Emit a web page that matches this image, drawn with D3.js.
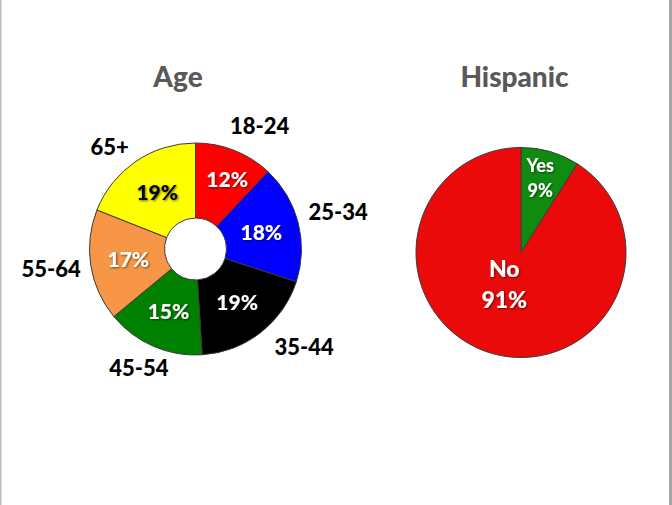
<!DOCTYPE html>
<html>
<head>
<meta charset="utf-8">
<script src="https://cdn.jsdelivr.net/npm/d3@7"></script>
<style>
  html, body { margin: 0; padding: 0; background: #fff; }
  svg { display: block; }
</style>
</head>
<body>
<svg id="chart" width="672" height="505"></svg>
<script>
// ---- data ----
const ageCategories = ["18-24", "25-34", "35-44", "45-54", "55-64", "65+"];
const ageValues = [12, 18, 19, 15, 17, 19];
const ageColors = ["#FF0000", "#0000FF", "#000000", "#008000", "#F79646", "#FFFF00"];
const ageTextColors = ["#FFFFFF", "#FFFFFF", "#FFFFFF", "#FFFFFF", "#FFFFFF", "#000000"];

const hispCategories = ["Yes", "No"];
const hispValues = [9, 91];
const hispColors = ["#0F8C0F", "#EB0A0A"];

const titles = ["Age", "Hispanic"];

// ---- drawing ----
const svg = d3.select("#chart");
const W = 672, H = 505;

// frame borders
svg.append("rect").attr("x", 0).attr("y", 0).attr("width", 1.5).attr("height", H).attr("fill", "#bdbdbd");
svg.append("rect").attr("x", 669).attr("y", 0).attr("width", 3).attr("height", H).attr("fill", "#a6a6a6");

const defs = svg.append("defs");
const f = defs.append("filter").attr("id", "shadow").attr("x", "-20%").attr("y", "-20%").attr("width", "140%").attr("height", "140%");
f.append("feDropShadow").attr("dx", 1).attr("dy", 1).attr("stdDeviation", 0.8)
  .attr("flood-color", "#000").attr("flood-opacity", 0.55);

const font = "Lato, 'Open Sans', sans-serif";
const W_BOLD = 900;

// ---- Age donut ----
const ageC = { x: 195.5, y: 249 };
const ageR = 106, ageInner = 31;
const pie = d3.pie().sort(null).value(d => d);
const ageArcs = pie(ageValues);
const arcAge = d3.arc().innerRadius(ageInner).outerRadius(ageR);

const gAge = svg.append("g").attr("transform", `translate(${ageC.x},${ageC.y})`);
gAge.selectAll("path").data(ageArcs).join("path")
  .attr("d", arcAge)
  .attr("fill", (d, i) => ageColors[i])
  .attr("stroke", "#3a3a3a").attr("stroke-width", 1);

// percent labels inside
const deg = Math.PI / 180;
gAge.selectAll("text.pct").data(ageArcs).join("text")
  .attr("class", "pct")
  .attr("transform", (d, i) => {
    const a = (d.startAngle + d.endAngle) / 2 + (i === 0 ? 3 * deg : 0);
    const r = i === 0 ? 76 : 68;
    return `translate(${r * Math.sin(a)},${-r * Math.cos(a)})`;
  })
  .attr("text-anchor", "middle").attr("dy", "0.36em")
  .attr("font-family", font).attr("font-weight", W_BOLD).attr("font-size", 21)
  .attr("fill", (d, i) => ageTextColors[i])
  .attr("filter", "url(#shadow)")
  .text(d => d.data + "%");

// category labels outside (leader-less, Excel-like placement)
const angNudge = [6, 0, -10, 2, 1, -6];
const radBase = [116, 116, 118, 110, 115, 113];
gAge.selectAll("text.cat").data(ageArcs).join("text")
  .attr("class", "cat")
  .attr("font-family", font).attr("font-weight", W_BOLD).attr("font-size", 22)
  .attr("fill", "#000")
  .attr("text-anchor", "middle").attr("dy", "0.36em")
  .text((d, i) => ageCategories[i])
  .each(function (d, i) {
    const a = (d.startAngle + d.endAngle) / 2 + angNudge[i] * deg;
    const bb = this.getBBox();
    const s = Math.sin(a), c = Math.cos(a);
    const r = radBase[i] + (bb.width / 2) * Math.abs(s) + 10 * Math.abs(c);
    d3.select(this).attr("x", r * s).attr("y", -r * c);
  });

// ---- Hispanic pie ----
const hC = { x: 521, y: 252.5 };
const hR = 105;
const hArcs = pie(hispValues);
const arcH = d3.arc().innerRadius(0).outerRadius(hR);
const gH = svg.append("g").attr("transform", `translate(${hC.x},${hC.y})`);
gH.selectAll("path").data(hArcs).join("path")
  .attr("d", arcH)
  .attr("fill", (d, i) => hispColors[i])
  .attr("stroke", "#3a3a3a").attr("stroke-width", 1);

const hLabelR = [77, 36];
const hFont = [18, 23];
hArcs.forEach((d, i) => {
  const a = (d.startAngle + d.endAngle) / 2 + (i === 1 ? 0.2 : -0.03);
  const x = hLabelR[i] * Math.sin(a), y = -hLabelR[i] * Math.cos(a);
  const t = gH.append("text")
    .attr("x", x).attr("y", y)
    .attr("text-anchor", "middle")
    .attr("font-family", font).attr("font-weight", W_BOLD).attr("font-size", hFont[i])
    .attr("fill", "#fff").attr("filter", "url(#shadow)");
  const lh = hFont[i] * 1.35;
  t.append("tspan").attr("x", x).attr("dy", -lh / 2 + hFont[i] * 0.36).text(hispCategories[i]);
  t.append("tspan").attr("x", x).attr("dy", lh).text(d.data + "%");
});

// ---- titles ----
svg.append("text").attr("x", 178).attr("y", 87)
  .attr("text-anchor", "middle")
  .attr("font-family", font).attr("font-weight", W_BOLD).attr("font-size", 28)
  .attr("fill", "#595959").text(titles[0]);
svg.append("text").attr("x", 514.5).attr("y", 87)
  .attr("text-anchor", "middle")
  .attr("font-family", font).attr("font-weight", W_BOLD).attr("font-size", 28)
  .attr("fill", "#595959").text(titles[1]);
</script>
</body>
</html>
